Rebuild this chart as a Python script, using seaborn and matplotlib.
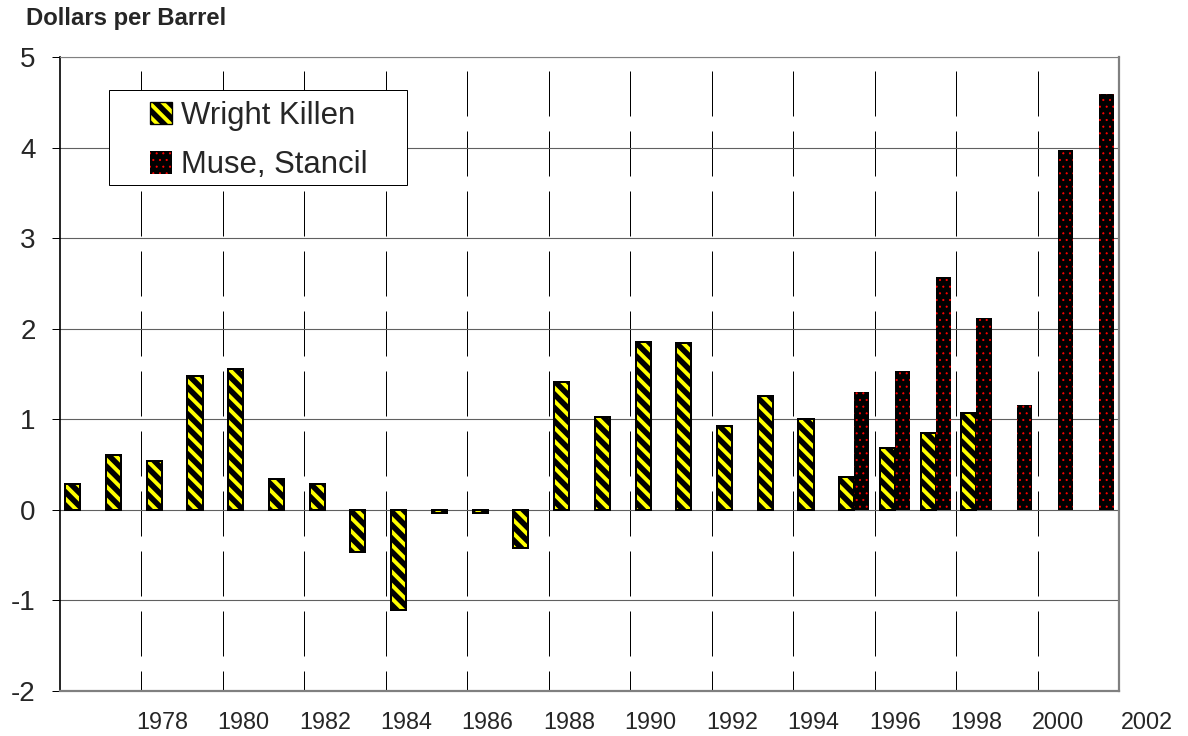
import numpy as np
import pandas as pd
import matplotlib
matplotlib.use("Agg")
import matplotlib.pyplot as plt
import seaborn as sns
from matplotlib.patches import Patch, Rectangle
from matplotlib.transforms import blended_transform_factory

nan = np.nan
years = list(range(1976, 2002))
wright_killen = [0.28, 0.61, 0.54, 1.48, 1.56, 0.34, 0.28, -0.47, -1.11, -0.04,
                 -0.03, -0.42, 1.41, 1.02, 1.85, 1.84, 0.93, 1.26, 1.00, 0.36,
                 0.68, 0.85, 1.07, nan, nan, nan]
muse_stancil = [nan] * 19 + [1.30, 1.53, 2.57, 2.12, 1.16, 3.97, 4.59]
series_names = ["Wright Killen", "Muse, Stancil"]
tick_years = list(range(1978, 2003, 2))
y_ticks = [-2, -1, 0, 1, 2, 3, 4, 5]
title = "Dollars per Barrel"

sns.set_style("white")
plt.rcParams["font.family"] = ["Liberation Sans", "DejaVu Sans"]
plt.rcParams["hatch.linewidth"] = 5.0

WK_HATCH = "\\" * 2
MS_HATCH = ".."
WK_HLW = 5.0
MS_HLW = 0.7
MS_DOT = "#ff0000"

rows = []
for name, vals in zip(series_names, [wright_killen, muse_stancil]):
    for y, v in zip(years, vals):
        if not np.isnan(v):
            rows.append({"year": str(y), "series": name, "value": v})
df = pd.DataFrame(rows)

W, H, DPI = 1188, 736, 80
fig = plt.figure(figsize=(W / DPI, H / DPI), dpi=DPI)
ax = fig.add_axes([60 / W, 45 / H, 1059 / W, 634 / H])

palette = {"Wright Killen": "yellow", "Muse, Stancil": "black"}
sns.barplot(data=df, x="year", y="value", hue="series",
            order=[str(y) for y in years], hue_order=series_names,
            palette=palette, width=0.74, dodge=True, errorbar=None,
            saturation=1, legend=False, ax=ax, zorder=3)


def set_hlw(p, lw):
    try:
        p.set_hatch_linewidth(lw)
    except AttributeError:
        p._hatch_linewidth = lw


def style_patch(p, which):
    if which == 0:
        p.set_edgecolor("black")
        p.set_linewidth(1.8)
        p.set_hatch(WK_HATCH)
        set_hlw(p, WK_HLW)
    else:
        p.set_edgecolor(MS_DOT)
        p.set_linewidth(0)
        p.set_hatch(MS_HATCH)
        set_hlw(p, MS_HLW)


for p in ax.patches:
    fc = p.get_facecolor()
    style_patch(p, 0 if fc[0] > 0.5 else 1)

ax.set_xlim(-0.5, len(years) - 0.5)
ax.set_ylim(y_ticks[0], y_ticks[-1])
ax.set_yticks(y_ticks)
ax.set_yticklabels([str(v) for v in y_ticks])

pos_lab = [(years.index(t) if t in years else t - years[0], t) for t in tick_years]
inside = [(p, t) for p, t in pos_lab if p <= len(years) - 1]
outside = [(p, t) for p, t in pos_lab if p > len(years) - 1]
ax.set_xticks([p for p, _ in inside])
ax.set_xticklabels([str(t) for _, t in inside])
ax.set_xticks([p - 0.5 for p, _ in inside], minor=True)
ax.set_xlabel("")
ax.set_ylabel("")

ax.tick_params(axis="x", which="both", length=0, labelsize=21, pad=18)
ax.tick_params(axis="y", which="major", direction="out", length=7, width=0.9,
               color="black", labelsize=25, pad=15, left=True)

ax.grid(False)
ax.grid(which="major", axis="y", color="#606060", linewidth=1.0, zorder=1)
ax.grid(which="minor", axis="x", color="black", linewidth=0.9,
        linestyle=(25, (45, 15)), zorder=1)
ax.set_axisbelow(True)

ax.spines["left"].set_color("black")
ax.spines["left"].set_linewidth(1.5)
for s in ["bottom", "right"]:
    ax.spines[s].set_color("#808080")
    ax.spines[s].set_linewidth(2)
ax.spines["top"].set_color("#808080")
ax.spines["top"].set_linewidth(1)

trans = blended_transform_factory(ax.transData, ax.transAxes)
for p, t in outside:
    ax.annotate(str(t), xy=(p, 0), xycoords=trans, xytext=(7, -18),
                textcoords="offset points", ha="center", va="top",
                fontsize=21, annotation_clip=False)

fig.text(26 / W, 1 - 7 / H, title, fontweight="bold", fontsize=21.5,
         ha="left", va="top")

frame = Rectangle((109 / W, 1 - 185 / H), 298 / W, 95 / H,
                  transform=fig.transFigure, facecolor="white",
                  edgecolor="black", linewidth=0.9, zorder=4)
fig.add_artist(frame)
h_wk = Patch(facecolor="yellow")
h_ms = Patch(facecolor="black")
style_patch(h_wk, 0)
style_patch(h_ms, 1)
leg = fig.legend([h_wk, h_ms], series_names, loc="upper left",
                 bbox_to_anchor=(150 / W, 1 - 101 / H), frameon=False,
                 fontsize=28, handlelength=0.72, handleheight=0.72,
                 handletextpad=0.27, labelspacing=0.62, borderpad=0,
                 borderaxespad=0)
leg.set_zorder(5)
for i, lh in enumerate(leg.legend_handles):
    style_patch(lh, i)
    if i == 0:
        lh.set_linewidth(1.2)

fig.savefig("out.png", dpi=DPI)
